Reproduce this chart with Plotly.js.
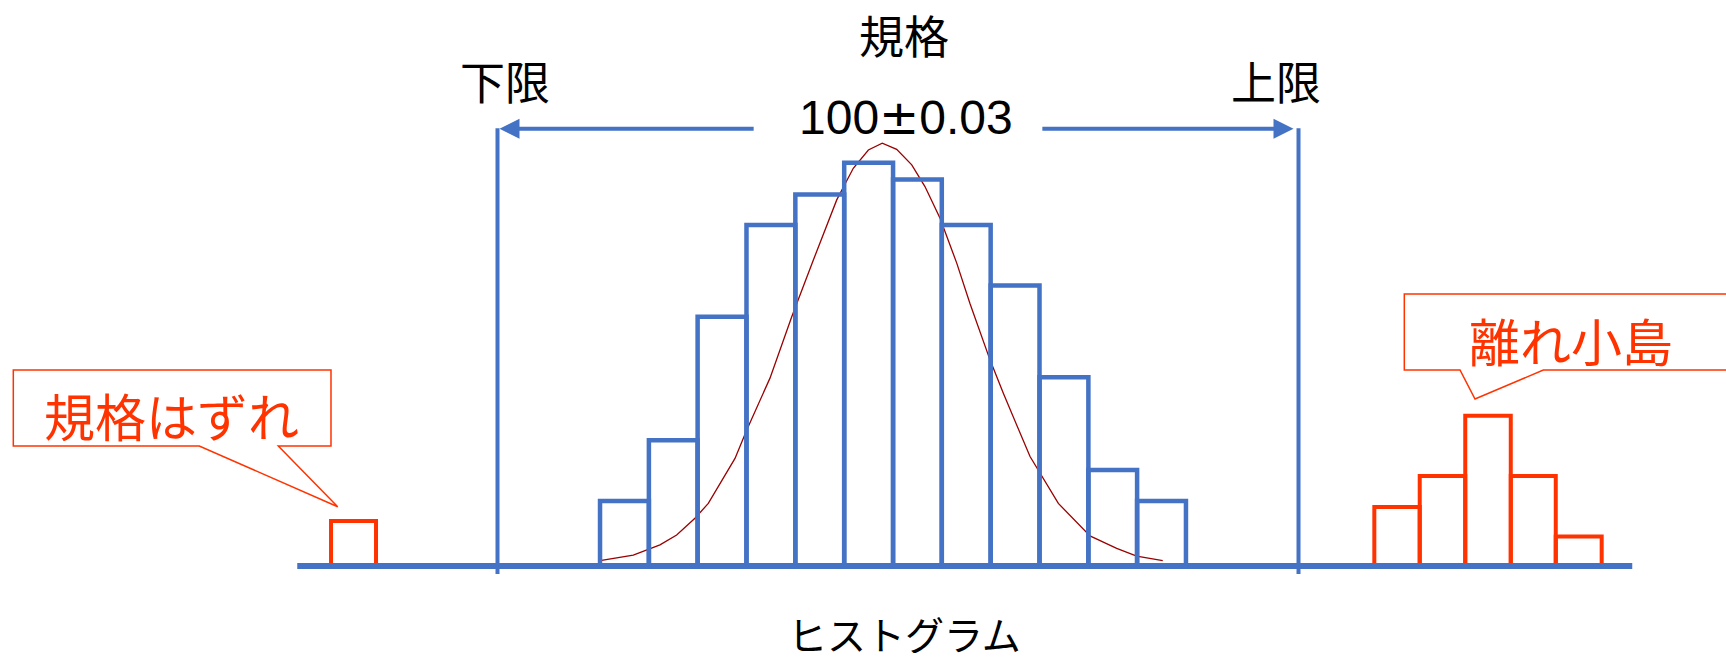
<!DOCTYPE html>
<html><head><meta charset="utf-8">
<script src="https://cdn.plot.ly/plotly-3.0.1.min.js"></script>
<style>html,body{margin:0;padding:0;background:#fff}#chart{width:1726px;height:660px}</style>
</head><body><div id="chart"></div>
<script>
// ---- data ----
const specCenter = 100.00;
const specTol = 0.03;
const specLabelParts = ["100", "±", "0.03"];
const specTitle = "規格";
const lowerLabel = "下限";
const upperLabel = "上限";
const chartTitle = "ヒストグラム";
const outlierLabel = "規格はずれ";
const islandLabel = "離れ小島";

const mainEdges = [99.97768, 99.98134, 99.98499, 99.98865, 99.99231, 99.99597, 99.99963,
                   100.00328, 100.00694, 100.01060, 100.01426, 100.01791, 100.02157];
const mainCounts = [2.1, 4.06, 8.04, 11.0, 11.98, 13.01, 12.47, 11.0, 9.05, 6.09, 3.1, 2.1];

const islandEdges = [100.03568, 100.03908, 100.04249, 100.04590, 100.04927, 100.05271];
const islandCounts = [1.9, 2.9, 4.85, 2.9, 0.95];

const outlierEdges = [99.95753, 99.96090];
const outlierCounts = [1.45];

const curveX = [99.97768, 99.98017, 99.98217, 99.98342, 99.98479, 99.98579, 99.98779, 99.98867,
                99.99041, 99.99204, 99.99366, 99.99541, 99.99665, 99.99778, 99.99882, 99.99990,
                100.00103, 100.00202, 100.00315, 100.00440, 100.00539, 100.00689, 100.00789,
                100.00989, 100.01201, 100.01438, 100.01638, 100.01788, 100.01983];
const curveY = [0.17, 0.35, 0.68, 1.0, 1.54, 2.02, 3.47, 4.39,
                6.06, 8.04, 9.87, 11.81, 12.83, 13.42, 13.64, 13.44,
                12.94, 12.24, 11.22, 9.77, 8.47, 6.65, 5.57,
                3.53, 2.02, 0.97, 0.57, 0.32, 0.17];

const axisExtent = [99.955, 100.055];

// ---- layout constants ----
const W = 1726, H = 660;
const BLUE = '#4472C4', RED = '#FF3300', CURVE = '#990000';
const JP = '"Noto Sans CJK JP", "Noto Sans", sans-serif';
const LAT = '"Liberation Sans", Arial, sans-serif';
const xRange = [99.932734, 100.062022];
const yRange = [-3.03226, 18.25806];
const specTop = 14.12, specBottom = -0.26, arrowY = 14.106, arrowGap = 0.0107;

const P = x => x / W, Q = y => 1 - y / H;

function outline(edges, counts) {
  const xs = [], ys = [];
  for (let i = 0; i < counts.length; i++) {
    xs.push(edges[i], edges[i], edges[i + 1], edges[i + 1], null);
    ys.push(0, counts[i], counts[i], 0, null);
  }
  return {xs, ys};
}

const lsl = specCenter - specTol, usl = specCenter + specTol;
const mainO = outline(mainEdges, mainCounts);
const islO = outline(islandEdges, islandCounts);
const outO = outline(outlierEdges, outlierCounts);

const traces = [
  {x: curveX, y: curveY, mode: 'lines', line: {color: CURVE, width: 1.3}, hoverinfo: 'skip'},
  {x: mainO.xs, y: mainO.ys, mode: 'lines', line: {color: BLUE, width: 4.5}, connectgaps: false, hoverinfo: 'skip'},
  {x: outO.xs, y: outO.ys, mode: 'lines', line: {color: RED, width: 4}, connectgaps: false, hoverinfo: 'skip'},
  {x: islO.xs, y: islO.ys, mode: 'lines', line: {color: RED, width: 4}, connectgaps: false, hoverinfo: 'skip'},
  {x: [lsl, lsl, null, usl, usl], y: [specBottom, specTop, null, specBottom, specTop], mode: 'lines',
   line: {color: BLUE, width: 4}, connectgaps: false, hoverinfo: 'skip'},
  {x: axisExtent, y: [0, 0], mode: 'lines', line: {color: BLUE, width: 6}, hoverinfo: 'skip'}
];

function callout(pts) {
  return 'M ' + pts.map(p => P(p[0]).toFixed(5) + ',' + Q(p[1]).toFixed(5)).join(' L ') + ' Z';
}

const shapes = [
  {type: 'path', xref: 'paper', yref: 'paper', layer: 'below',
   path: callout([[13.3, 370], [331, 370], [331, 446], [278.3, 446], [337.7, 506.7], [199.3, 446], [13.3, 446]]),
   line: {color: RED, width: 1.5}, fillcolor: 'white'},
  {type: 'path', xref: 'paper', yref: 'paper', layer: 'below',
   path: callout([[1404.3, 294], [1740, 294], [1740, 370], [1543.3, 370], [1475, 399], [1460, 370], [1404.3, 370]]),
   line: {color: RED, width: 1.5}, fillcolor: 'white'}
];

function txt(text, x, y, size, color, family, h) {
  const a = {text, xref: 'paper', yref: 'paper', x: P(x), y: Q(y), xanchor: 'center', yanchor: 'middle',
          showarrow: false, font: {size, color, family}};
  if (h) { a.height = h; a.borderpad = 0; a.valign = 'middle'; }
  return a;
}

const specLabel = specLabelParts[0] + '<span style="font-family:\'DejaVu Sans\'">' + specLabelParts[1] + '</span>' + specLabelParts[2];

const annotations = [
  txt(specTitle, 903.5, 34, 45, '#000', JP),
  txt(lowerLabel, 505.5, 80, 45, '#000', JP),
  txt(upperLabel, 1276, 80, 45, '#000', JP),
  txt(specLabel, 906, 117.5, 48, '#000', LAT),
  txt(chartTitle, 904.5, 633, 39, '#000', JP, 40),
  txt(outlierLabel, 171.7, 415, 51, RED, JP),
  txt(islandLabel, 1571, 340, 51, RED, JP),
  {x: lsl, y: arrowY, ax: specCenter - arrowGap, ay: arrowY, xref: 'x', yref: 'y', axref: 'x', ayref: 'y',
   text: '', showarrow: true, arrowhead: 2, arrowsize: 1, arrowwidth: 4, arrowcolor: BLUE, standoff: 2},
  {x: usl, y: arrowY, ax: specCenter + arrowGap, ay: arrowY, xref: 'x', yref: 'y', axref: 'x', ayref: 'y',
   text: '', showarrow: true, arrowhead: 2, arrowsize: 1, arrowwidth: 4, arrowcolor: BLUE, standoff: 5}
];

const layout = {
  width: W, height: H,
  margin: {l: 0, r: 0, t: 0, b: 0, pad: 0},
  paper_bgcolor: '#fff', plot_bgcolor: '#fff',
  showlegend: false,
  xaxis: {range: xRange, visible: false, fixedrange: true},
  yaxis: {range: yRange, visible: false, fixedrange: true},
  shapes, annotations
};

Plotly.newPlot('chart', traces, layout, {staticPlot: true, displayModeBar: false});
</script></body></html>
